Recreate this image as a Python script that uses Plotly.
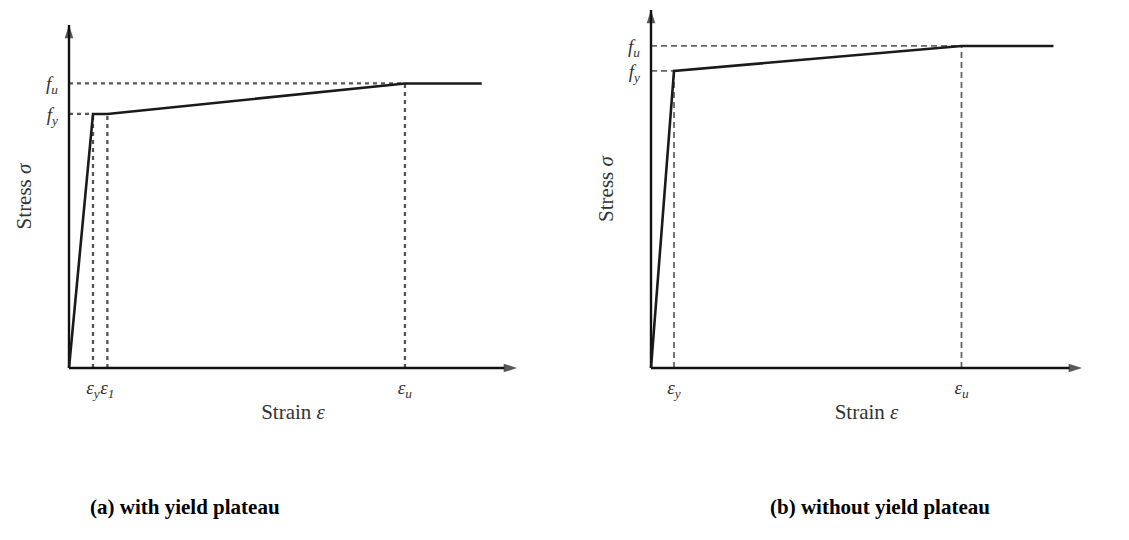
import plotly.graph_objects as go

# ---------------- data (normalised strain / stress) ----------------
# (a) with yield plateau
a_strain = [0.0, 0.10, 0.16, 1.40, 1.72]
a_stress = [0.0, 1.00, 1.00, 1.12, 1.12]
a_xticks = [0.10, 0.16, 1.40]
a_xlabels = ["<i>ε<sub>y</sub></i>", "<i>ε<sub>1</sub></i>", "<i>ε<sub>u</sub></i>"]
a_yticks = [1.00, 1.12]
a_ylabels = ["<i>f<sub>y</sub></i>", "<i>f<sub>u</sub></i>"]
a_xmax, a_ymax = 1.867, 1.35

# (b) without yield plateau
b_strain = [0.0, 0.10, 1.35, 1.75]
b_stress = [0.0, 1.00, 1.084, 1.084]
b_xticks = [0.10, 1.35]
b_xlabels = ["<i>ε<sub>y</sub></i>", "<i>ε<sub>u</sub></i>"]
b_yticks = [1.00, 1.084]
b_ylabels = ["<i>f<sub>y</sub></i>", "<i>f<sub>u</sub></i>"]
b_xmax, b_ymax = 1.874, 1.205

captions = ["<b>(a) with yield plateau</b>", "<b>(b) without yield plateau</b>"]

FONT = "Liberation Serif"
W, H = 1129, 540
PAD = 8  # px of padding around the drawn axes inside the plot area

fig = go.Figure()

dash_a = dict(color="#555", width=2.3, dash="4px,4px")
dash_b = dict(color="#666", width=1.8, dash="6px,4px")


def add_panel(xs, ys, xticks, yticks, xref, yref, xmax, ymax, dash_style):
    # dashed guide lines: horizontal from y axis to points, vertical from x axis
    for yv in sorted(set(yticks)):
        xv = next(x for x, y in zip(xs, ys) if abs(y - yv) < 1e-9)
        fig.add_trace(go.Scatter(x=[0, xv], y=[yv, yv], mode="lines", line=dash_style,
                                 xaxis=xref, yaxis=yref, showlegend=False, hoverinfo="skip"))
    for xv in xticks:
        yv = next(y for x, y in zip(xs, ys) if abs(x - xv) < 1e-9)
        fig.add_trace(go.Scatter(x=[xv, xv], y=[0, yv], mode="lines", line=dash_style,
                                 xaxis=xref, yaxis=yref, showlegend=False, hoverinfo="skip"))
    # axes with arrowheads
    for ax_x, ax_y in [([0, xmax], [0, 0]), ([0, 0], [0, ymax])]:
        fig.add_trace(go.Scatter(x=ax_x, y=ax_y, mode="lines+markers",
                                 line=dict(color="#111", width=2.4),
                                 marker=dict(symbol="arrow", size=[0, 14], angleref="previous",
                                             color="#111", line=dict(width=0)),
                                 xaxis=xref, yaxis=yref, showlegend=False, hoverinfo="skip",
                                 cliponaxis=False))
    fig.add_trace(go.Scatter(x=xs, y=ys, mode="lines", line=dict(color="#1a1a1a", width=2.6),
                             xaxis=xref, yaxis=yref, showlegend=False, hoverinfo="skip"))


add_panel(a_strain, a_stress, a_xticks, a_yticks, "x", "y", a_xmax, a_ymax, dash_a)
add_panel(b_strain, b_stress, b_xticks, b_yticks, "x2", "y2", b_xmax, b_ymax, dash_b)

tickfont = dict(family=FONT, size=19, color="#333")
titlefont = dict(family=FONT, size=21, color="#333")


def xax(x0_px, x1_px, xmax, tv, tt):
    s = (x1_px - x0_px) / xmax  # px per unit
    return dict(domain=[(x0_px - PAD) / W, (x1_px + PAD) / W],
                range=[-PAD / s, xmax + PAD / s],
                tickvals=tv, ticktext=tt, tickfont=tickfont,
                tickangle=0, showgrid=False, zeroline=False, showline=False, ticks="",
                ticklabelstandoff=-2,
                title=dict(text="Strain <i>ε</i>", font=titlefont, standoff=4), fixedrange=True)


def yax(y0_px, y1_px, ymax, tv, tt, anchor):
    s = (y0_px - y1_px) / ymax
    return dict(domain=[(H - y0_px - PAD) / H, (H - y1_px + PAD) / H],
                range=[-PAD / s, ymax + PAD / s],
                tickvals=tv, ticktext=tt, tickfont=tickfont,
                tickangle=0, showgrid=False, zeroline=False, showline=False, ticks="",
                anchor=anchor, ticklabelstandoff=2,
                title=dict(text="Stress <i>σ</i>", font=titlefont, standoff=8), fixedrange=True)


fig.update_layout(
    width=W, height=H,
    margin=dict(l=0, r=0, t=0, b=0),
    paper_bgcolor="white", plot_bgcolor="rgba(0,0,0,0)",
    xaxis=xax(69, 517, a_xmax, a_xticks, a_xlabels),
    yaxis=yax(368, 25, a_ymax, a_yticks, a_ylabels, "x"),
    xaxis2=dict(xax(651, 1082, b_xmax, b_xticks, b_xlabels), anchor="y2"),
    yaxis2=yax(368, 10, b_ymax, b_yticks, b_ylabels, "x2"),
)

for cx, text in zip([185 / W, 880 / W], captions):
    fig.add_annotation(x=cx, y=(H - 507) / H, xref="paper", yref="paper", text=text,
                       showarrow=False, font=dict(family=FONT, size=21, color="black"),
                       xanchor="center", yanchor="middle")

fig.write_html("out.html")
